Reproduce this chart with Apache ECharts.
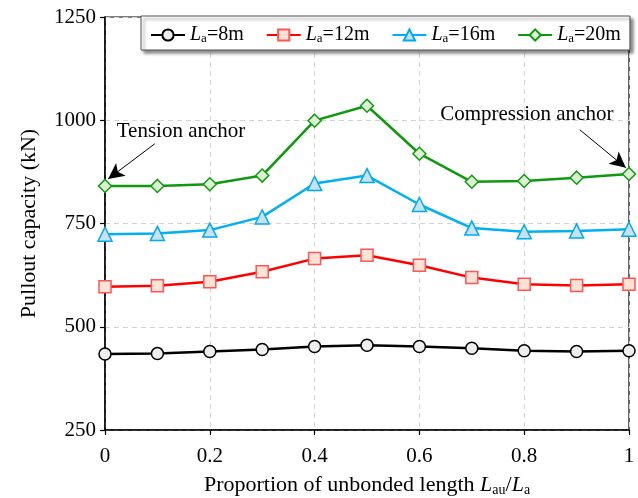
<!DOCTYPE html>
<html>
<head>
<meta charset="utf-8">
<script src="https://cdn.jsdelivr.net/npm/echarts@6/dist/echarts.min.js"></script>
<style>
html,body{margin:0;padding:0;background:#fff;}
#c{width:638px;height:498px;}
</style>
</head>
<body>
<div id="c"></div>
<script>
// ---- data ----
var xValues = [0, 0.1, 0.2, 0.3, 0.4, 0.5, 0.6, 0.7, 0.8, 0.9, 1.0];
var la8  = [434, 435, 440, 445, 452, 455, 452, 448, 442, 440, 442];
var la12 = [597, 599, 609, 633, 665, 673, 649, 619, 603, 600, 603];
var la16 = [724, 726, 734, 766, 847, 866, 796, 739, 730, 732, 736];
var la20 = [841, 841, 845, 866, 999, 1035, 919, 851, 853, 861, 870];
var lengths = ['8', '12', '16', '20'];
var yTicks = [250, 500, 750, 1000, 1250];
var xTicks = [0, 0.2, 0.4, 0.6, 0.8, 1];
var annotTension = {text: 'Tension anchor', textAt: [0.145, 974], from: [0.095, 943], to: [0.006, 858]};
var annotCompression = {text: 'Compression anchor', textAt: [0.805, 1015], from: [0.906, 977], to: [0.994, 885]};

var FONT = "'Liberation Serif','Times New Roman',serif";

function pairs(ys) { return xValues.map(function (x, i) { return [x, ys[i]]; }); }

var styles = [
  {line: '#000000', fill: '#eeeeee', border: '#000000', symbol: 'circle', size: 12},
  {line: '#ff0000', fill: '#fde2d6', border: '#ff5555', symbol: 'rect', size: 12},
  {line: '#00b0f0', fill: '#c8e1f5', border: '#00aaee', symbol: 'triangle', size: 14},
  {line: '#0f990f', fill: '#dcf0d4', border: '#109a10', symbol: 'diamond', size: 13}
];
var datasets = [la8, la12, la16, la20];

var series = datasets.map(function (d, k) {
  var s = styles[k];
  return {
    name: lengths[k],
    type: 'line',
    data: pairs(d),
    symbol: s.symbol,
    symbolSize: s.size,
    z: 3 + k,
    lineStyle: {color: s.line, width: 2.5},
    itemStyle: {color: s.fill, borderColor: s.border, borderWidth: 1.5},
    emphasis: {disabled: true}
  };
});

function arrow(a) {
  return [{coord: a.from, symbol: 'none'}, {coord: a.to, symbol: 'arrow'}];
}
series[3].markLine = {
  silent: true,
  animation: false,
  symbol: ['none', 'arrow'],
  symbolSize: [12, 16],
  lineStyle: {color: '#000', width: 1, type: 'solid'},
  label: {show: false},
  data: [arrow(annotTension), arrow(annotCompression)]
};
series[3].markPoint = {
  silent: true,
  animation: false,
  symbol: 'circle',
  symbolSize: 1,
  itemStyle: {color: 'rgba(0,0,0,0)'},
  label: {show: true, position: 'inside', color: '#000', fontFamily: FONT, fontSize: 21,
          formatter: function (p) { return p.name; }},
  data: [
    {name: annotTension.text, coord: annotTension.textAt},
    {name: annotCompression.text, coord: annotCompression.textAt}
  ]
};

var chart = echarts.init(document.getElementById('c'), null, {renderer: 'canvas'});
chart.setOption({
  animation: false,
  backgroundColor: '#ffffff',
  grid: {left: 105, right: 9, top: 17, bottom: 68, containLabel: false, outerBoundsMode: 'none',
         show: true, borderColor: '#000', borderWidth: 1.2, backgroundColor: 'transparent'},
  legend: {
    left: 141, top: 16,
    padding: [9, 9, 5, 9],
    itemGap: 22,
    itemWidth: 34, itemHeight: 14,
    backgroundColor: '#ffffff',
    borderColor: '#555',
    borderWidth: 1,
    shadowColor: 'rgba(0,0,0,0.45)',
    shadowBlur: 3, shadowOffsetX: 3, shadowOffsetY: 3,
    data: lengths,
    formatter: function (n) { return '{i|L}{s|a}{t|=' + n + 'm}'; },
    textStyle: {
      fontFamily: FONT, fontSize: 20, color: '#000',
      rich: {
        i: {fontFamily: FONT, fontSize: 20, fontStyle: 'italic', lineHeight: 20, verticalAlign: 'middle'},
        s: {fontFamily: FONT, fontSize: 13, lineHeight: 13, verticalAlign: 'bottom'},
        t: {fontFamily: FONT, fontSize: 20, lineHeight: 20, verticalAlign: 'middle'}
      }
    }
  },
  xAxis: {
    type: 'value', min: 0, max: 1, interval: 0.2,
    name: '{r|Proportion of unbonded length }{i|L}{s|au}{r|/}{i|L}{s|a}',
    nameLocation: 'middle', nameGap: 43,
    nameTextStyle: {
      color: '#000', fontFamily: FONT, fontSize: 22,
      rich: {
        r: {fontFamily: FONT, fontSize: 22, lineHeight: 24, verticalAlign: 'middle', color: '#000'},
        i: {fontFamily: FONT, fontSize: 22, fontStyle: 'italic', lineHeight: 24, verticalAlign: 'middle', color: '#000'},
        s: {fontFamily: FONT, fontSize: 14, lineHeight: 14, verticalAlign: 'bottom', color: '#000'}
      }
    },
    axisLine: {show: true, onZero: false, lineStyle: {color: '#000', width: 1.5}},
    axisTick: {show: true, inside: false, length: 5, lineStyle: {color: '#000', width: 1.2}},
    axisLabel: {color: '#000', fontFamily: FONT, fontSize: 21, margin: 16,
                formatter: function (v) { return String(Math.round(v * 10) / 10); }},
    splitLine: {show: true, lineStyle: {color: '#d3d3d3', type: [5, 4], width: 1}}
  },
  yAxis: {
    type: 'value', min: 250, max: 1250, interval: 250,
    name: 'Pullout capacity (kN)',
    nameLocation: 'middle', nameGap: 65, nameRotate: 90,
    nameTextStyle: {color: '#000', fontFamily: FONT, fontSize: 22},
    axisLine: {show: true, onZero: false, lineStyle: {color: '#000', width: 1.5}},
    axisTick: {show: true, inside: false, length: 5, lineStyle: {color: '#000', width: 1.2}},
    axisLabel: {color: '#000', fontFamily: FONT, fontSize: 21, margin: 9,
                formatter: function (v) { return String(v); }},
    splitLine: {show: true, lineStyle: {color: '#d3d3d3', type: [5, 4], width: 1}}
  },
  series: series
});
</script>
</body>
</html>
